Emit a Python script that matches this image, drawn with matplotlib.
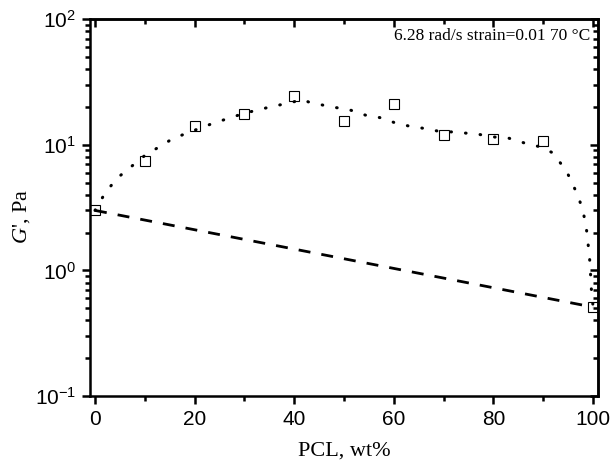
import numpy as np
import matplotlib.pyplot as plt
from matplotlib.ticker import LogLocator, NullFormatter, FixedLocator

plt.rcParams['mathtext.fontset'] = 'custom'
plt.rcParams['mathtext.rm'] = 'Liberation Sans'
plt.rcParams['mathtext.it'] = 'Liberation Serif:italic'
plt.rcParams['axes.unicode_minus'] = False

# measured G' values
pcl = [0, 10, 20, 30, 40, 50, 60, 70, 80, 90, 100]
g_prime = [3.0, 7.4, 14.0, 17.5, 24.3, 15.4, 21.0, 11.9, 11.1, 10.7, 0.51]

# dotted model curve
fit_x = [0, 2, 4.4, 10, 15.5, 18.3, 23.7, 30, 35, 39.7, 41.5, 43, 47.7, 50.7, 54.3,
         57.7, 60.3, 63.3, 66, 69, 72.3, 77, 80.3, 83, 86.3, 89, 92, 93, 94.9,
         96.2, 97.4, 98.2, 98.7, 99, 99.3, 99.5, 99.6, 100]
fit_y = [3.0, 4.1, 5.4, 8.2, 11.1, 12.3, 14.8, 17.8, 19.9, 21.8, 23.0, 21.8, 19.9, 19.2, 17.2,
         16.3, 14.9, 14.0, 13.5, 12.8, 12.6, 12.1, 11.5, 11.3, 10.3, 9.7, 8.6, 7.6, 5.9,
         4.6, 3.5, 2.7, 2.1, 1.64, 1.27, 0.95, 0.76, 0.52]

# dashed log-additivity line
mix_x = [0, 100]
mix_y = [3.0, 0.51]

fig = plt.figure(figsize=(6.11, 4.65), dpi=100)
ax = fig.add_axes([0.1473, 0.1484, 0.8314, 0.8106])

ax.plot(fit_x, fit_y, color='black', lw=2.2, linestyle=(0, (0.2, 4.6)),
        dash_capstyle='round')
ax.plot(mix_x, mix_y, color='black', lw=2.0, linestyle=(0, (4.3, 4.0)))
ax.plot(pcl, g_prime, linestyle='none', marker='s', markersize=7.5,
        markerfacecolor='none', markeredgecolor='black', markeredgewidth=0.8)

ax.set_yscale('log')
ax.set_xlim(-1, 101)
ax.set_ylim(0.1, 100)

ax.xaxis.set_major_locator(FixedLocator([0, 20, 40, 60, 80, 100]))
ax.xaxis.set_minor_locator(FixedLocator([10, 30, 50, 70, 90]))
ax.yaxis.set_major_locator(LogLocator(base=10, numticks=10))
ax.yaxis.set_minor_locator(LogLocator(base=10, subs=np.arange(2, 10), numticks=10))
ax.yaxis.set_minor_formatter(NullFormatter())

for side in ax.spines.values():
    side.set_linewidth(1.8)

ax.tick_params(axis='both', which='major', labelsize=15, width=1.8, length=6,
               direction='out', pad=4)
ax.tick_params(axis='both', which='minor', width=1.8, length=3.5, direction='out')
for lbl in ax.get_xticklabels() + ax.get_yticklabels():
    lbl.set_fontfamily('Liberation Sans')

# inward ticks on top and right
sec_x = ax.secondary_xaxis('top')
sec_x.xaxis.set_major_locator(FixedLocator([0, 20, 40, 60, 80, 100]))
sec_x.xaxis.set_minor_locator(FixedLocator([10, 30, 50, 70, 90]))
sec_x.tick_params(which='major', direction='in', length=6, width=1.8, labeltop=False)
sec_x.tick_params(which='minor', direction='in', length=3.5, width=1.8)
sec_x.spines['top'].set_linewidth(1.8)
sec_y = ax.secondary_yaxis('right')
sec_y.yaxis.set_major_locator(LogLocator(base=10, numticks=10))
sec_y.yaxis.set_minor_locator(LogLocator(base=10, subs=np.arange(2, 10), numticks=10))
sec_y.yaxis.set_minor_formatter(NullFormatter())
sec_y.tick_params(which='major', direction='in', length=6, width=1.8, labelright=False)
sec_y.tick_params(which='minor', direction='in', length=3.5, width=1.8)
sec_y.spines['right'].set_linewidth(1.8)

ax.set_xlabel('PCL, wt%', fontsize=16, fontfamily='Liberation Serif', labelpad=9)
ax.set_ylabel("$\\mathit{G}$', Pa", fontsize=16, fontfamily='Liberation Serif')
ax.yaxis.set_label_coords(-0.115, 0.475)
ax.text(0.985, 0.975, '6.28 rad/s strain=0.01 70 \u00b0C', transform=ax.transAxes,
        ha='right', va='top', fontsize=12.5, fontfamily='Liberation Serif')

fig.savefig('out.png', dpi=100)
